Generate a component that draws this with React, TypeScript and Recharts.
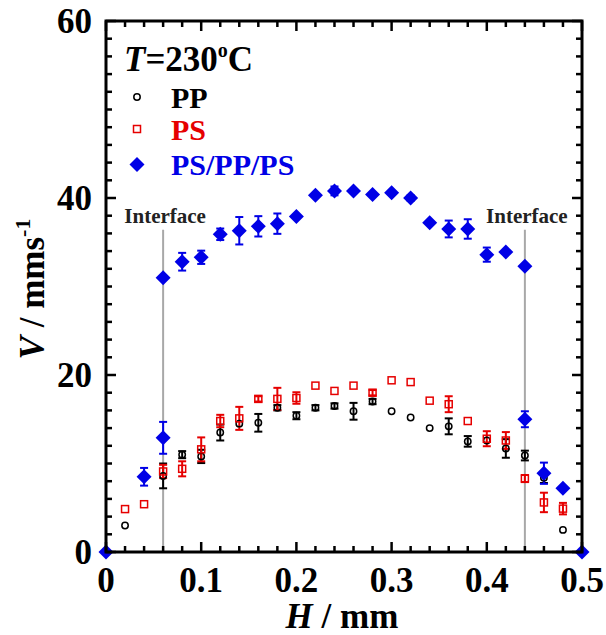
import { ScatterChart, Scatter, XAxis, YAxis, ErrorBar, ReferenceLine, Legend } from "recharts";

const FONT = '"Liberation Serif", "Times New Roman", serif';
const RED = "#e60000";
const BLUE = "#0000e6";

const X_TICKS = [
  0, 0.02, 0.04, 0.06, 0.08, 0.1, 0.12, 0.14, 0.16, 0.18, 0.2, 0.22, 0.24, 0.26,
  0.28, 0.3, 0.32, 0.34, 0.36, 0.38, 0.4, 0.42, 0.44, 0.46, 0.48, 0.5,
];
const Y_TICKS = [
  0, 2, 4, 6, 8, 10, 12, 14, 16, 18, 20, 22, 24, 26, 28, 30, 32, 34, 36, 38, 40,
  42, 44, 46, 48, 50, 52, 54, 56, 58, 60,
];
const X_DOMAIN = [0, 0.5];
const Y_DOMAIN = [0, 60];

// PP (open circles)
const PP_H = [0.02, 0.06, 0.08, 0.1, 0.12, 0.14, 0.16, 0.18, 0.2, 0.22, 0.24, 0.26, 0.28, 0.3, 0.32, 0.34, 0.36, 0.38, 0.4, 0.42, 0.44, 0.46, 0.48];
const PP_V = [3.0, 8.6, 11.0, 10.8, 13.5, 14.5, 14.6, 16.3, 15.4, 16.3, 16.5, 15.9, 17.0, 15.9, 15.2, 14.0, 14.2, 12.5, 12.6, 11.7, 10.9, 8.4, 2.5];
const PP_ERR = [0, 1.4, 0.4, 0.75, 0.9, 0, 1.0, 0.3, 0.4, 0.3, 0.3, 0.95, 0.3, 0, 0, 0, 0.9, 0.6, 0, 1.05, 0.55, 0.6, 0];

// PS (open squares)
const PS_H = [0.02, 0.04, 0.06, 0.08, 0.1, 0.12, 0.14, 0.16, 0.18, 0.2, 0.22, 0.24, 0.26, 0.28, 0.3, 0.32, 0.34, 0.36, 0.38, 0.4, 0.42, 0.44, 0.46, 0.48];
const PS_V = [4.85, 5.4, 9.1, 9.4, 11.6, 14.8, 15.1, 17.3, 17.3, 17.4, 18.8, 18.2, 18.8, 18.0, 19.4, 19.2, 17.1, 16.7, 14.8, 12.8, 12.6, 8.3, 5.6, 4.9];
const PS_ERR = [0, 0, 0.75, 0.85, 1.35, 0.7, 1.3, 0.3, 1.25, 0.65, 0, 0, 0, 0.3, 0, 0, 0, 0.9, 0, 0.85, 0.95, 0.4, 1.1, 0.65];

// PS/PP/PS (filled diamonds): outer PS layers and PP core
const TRI_OUT_H = [0, 0.04, 0.06, 0.44, 0.46, 0.48, 0.5];
const TRI_OUT_V = [0, 8.5, 12.9, 15.0, 8.9, 7.2, 0];
const TRI_OUT_ERR = [0, 1.0, 1.8, 0.9, 1.2, 0, 0];
const TRI_CORE_H = [0.06, 0.08, 0.1, 0.12, 0.14, 0.16, 0.18, 0.2, 0.22, 0.24, 0.26, 0.28, 0.3, 0.32, 0.34, 0.36, 0.38, 0.4, 0.42, 0.44];
const TRI_CORE_V = [31.0, 32.8, 33.3, 35.9, 36.3, 36.8, 37.1, 37.9, 40.3, 40.8, 40.8, 40.4, 40.6, 40.0, 37.2, 36.5, 36.5, 33.6, 33.9, 32.3];
const TRI_CORE_ERR = [0, 1.0, 0.75, 0.65, 1.55, 1.15, 1.15, 0, 0, 0.5, 0, 0, 0, 0.3, 0, 0.95, 1.1, 0.8, 0, 0];

const INTERFACES = [0.06, 0.44];
const INTERFACE_TOP = 36.4;

// plot box in page pixels (matches the chart margins below)
const PLOT = { left: 106, right: 582, top: 21, bottom: 552 };
const px = (h: number) => PLOT.left + (h / X_DOMAIN[1]) * (PLOT.right - PLOT.left);
const py = (v: number) => PLOT.bottom - (v / Y_DOMAIN[1]) * (PLOT.bottom - PLOT.top);

const toRows = (h: number[], v: number[], e: number[]) =>
  h.map((x, i) => ({ h: x, v: v[i], err: e[i] }));

const ppData = toRows(PP_H, PP_V, PP_ERR);
const psData = toRows(PS_H, PS_V, PS_ERR);
const triData = [
  ...toRows(TRI_OUT_H, TRI_OUT_V, TRI_OUT_ERR),
  ...toRows(TRI_CORE_H, TRI_CORE_V, TRI_CORE_ERR),
];

const isMajor = (v: number, step: number) => Math.abs(v / step - Math.round(v / step)) < 1e-6;

const labelStyle = { fontFamily: FONT, fontWeight: 700, fontSize: 35, fill: "#000" };

function BottomTick(props: any) {
  const { x, y, payload } = props;
  if (!isMajor(payload.value, 0.1)) return <g />;
  return (
    <text x={x} y={y + 40} textAnchor="middle" style={labelStyle}>
      {String(Math.round(payload.value * 10) / 10)}
    </text>
  );
}

function LeftTick(props: any) {
  const { x, y, payload } = props;
  if (!isMajor(payload.value, 20)) return <g />;
  return (
    <text x={x - 14} y={y + 12} textAnchor="end" style={labelStyle}>
      {payload.value}
    </text>
  );
}

const Circle = (p: any) => (
  <circle cx={p.cx} cy={p.cy} r={3.2} fill="none" stroke="#000" strokeWidth={1.5} />
);
const Square = (p: any) => (
  <rect x={p.cx - 3.5} y={p.cy - 3.5} width={7} height={7} fill="none" stroke={RED} strokeWidth={1.5} />
);
const Diamond = (p: any) => (
  <path
    d={`M${p.cx},${p.cy - 7.5} L${p.cx + 7.5},${p.cy} L${p.cx},${p.cy + 7.5} L${p.cx - 7.5},${p.cy} Z`}
    fill={BLUE}
  />
);

function LegendBox() {
  const t = { fontFamily: FONT, fontWeight: 700 };
  return (
    <svg width={320} height={190} style={{ display: "block" }}>
      <text x={124} y={71} style={{ ...t, fontSize: 35 }} fill="#000">
        <tspan fontStyle="italic">T</tspan>=230
        <tspan dy={-14} fontSize={20}>o</tspan>
        <tspan dy={14}>C</tspan>
      </text>
      <circle cx={137} cy={97} r={3.2} fill="none" stroke="#000" strokeWidth={1.5} />
      <text x={171} y={108} style={{ ...t, fontSize: 30 }} fill="#000">PP</text>
      <rect x={133.5} y={125.5} width={7} height={7} fill="none" stroke={RED} strokeWidth={1.5} />
      <text x={171} y={140} style={{ ...t, fontSize: 30 }} fill={RED}>PS</text>
      <path d="M137,157 L144.5,164.5 L137,172 L129.5,164.5 Z" fill={BLUE} />
      <text x={171} y={175} style={{ ...t, fontSize: 30 }} fill={BLUE}>PS/PP/PS</text>
    </svg>
  );
}

// frame with inward ticks, axis titles and interface captions
function Overlay() {
  const { left, right, top, bottom } = PLOT;
  return (
    <svg
      width={606}
      height={635}
      style={{ position: "absolute", left: 0, top: 0, pointerEvents: "none" }}
    >
      <g stroke="#000" strokeWidth={2.5}>
        {X_TICKS.map((h) => {
          const len = isMajor(h, 0.1) ? 10 : 6;
          const x = px(h);
          return (
            <g key={`x-${h}`}>
              <line x1={x} x2={x} y1={bottom} y2={bottom - len} />
              <line x1={x} x2={x} y1={top} y2={top + len} />
            </g>
          );
        })}
        {Y_TICKS.map((v) => {
          const len = isMajor(v, 20) ? 10 : 6;
          const y = py(v);
          return (
            <g key={`y-${v}`}>
              <line x1={left} x2={left + len} y1={y} y2={y} />
              <line x1={right} x2={right - len} y1={y} y2={y} />
            </g>
          );
        })}
      </g>
      <rect
        x={left}
        y={top}
        width={right - left}
        height={bottom - top}
        fill="none"
        stroke="#000"
        strokeWidth={3}
      />
      <text x={342} y={628} textAnchor="middle" style={labelStyle}>
        <tspan fontStyle="italic">H</tspan> / mm
      </text>
      <text x={0} y={0} transform="translate(44,289) rotate(-90)" textAnchor="middle" style={labelStyle}>
        <tspan fontStyle="italic">V</tspan> / mms
        <tspan dy={-14} fontSize={22}>-1</tspan>
      </text>
      {INTERFACES.map((h) => (
        <text
          key={h}
          x={px(h) + 2}
          y={py(INTERFACE_TOP) - 7}
          textAnchor="middle"
          style={{ fontFamily: FONT, fontWeight: 700, fontSize: 21, fill: "#222" }}
        >
          Interface
        </text>
      ))}
    </svg>
  );
}

export default function App() {
  return (
    <div style={{ position: "absolute", left: 0, top: 0, width: 606, height: 635 }}>
      <ScatterChart width={606} height={635} margin={{ top: 21, right: 24, bottom: 0, left: 0 }}>
        <XAxis
          dataKey="h"
          type="number"
          domain={X_DOMAIN}
          ticks={X_TICKS}
          interval={0}
          height={83}
          tickSize={0}
          tickMargin={0}
          tickLine={false}
          axisLine={false}
          tick={<BottomTick />}
        />
        <YAxis
          dataKey="v"
          type="number"
          domain={Y_DOMAIN}
          ticks={Y_TICKS}
          interval={0}
          width={106}
          tickSize={0}
          tickMargin={0}
          tickLine={false}
          axisLine={false}
          tick={<LeftTick />}
        />
        {INTERFACES.map((x) => (
          <ReferenceLine
            key={`if-${x}`}
            segment={[{ x, y: 0 }, { x, y: INTERFACE_TOP }]}
            stroke="#a8a8a8"
            strokeWidth={2}
          />
        ))}
        <Scatter name="PP" data={ppData} shape={Circle} isAnimationActive={false}>
          <ErrorBar dataKey="err" direction="y" width={4} stroke="#000" strokeWidth={2} isAnimationActive={false} />
        </Scatter>
        <Scatter name="PS" data={psData} shape={Square} isAnimationActive={false}>
          <ErrorBar dataKey="err" direction="y" width={4} stroke={RED} strokeWidth={2} isAnimationActive={false} />
        </Scatter>
        <Scatter name="PS/PP/PS" data={triData} shape={Diamond} isAnimationActive={false}>
          <ErrorBar dataKey="err" direction="y" width={4} stroke={BLUE} strokeWidth={2} isAnimationActive={false} />
        </Scatter>
        <Legend
          layout="vertical"
          align="center"
          verticalAlign="middle"
          content={<LegendBox />}
          wrapperStyle={{ position: "absolute", left: 0, top: 0, width: 320, height: 190 }}
        />
      </ScatterChart>
      <Overlay />
    </div>
  );
}
